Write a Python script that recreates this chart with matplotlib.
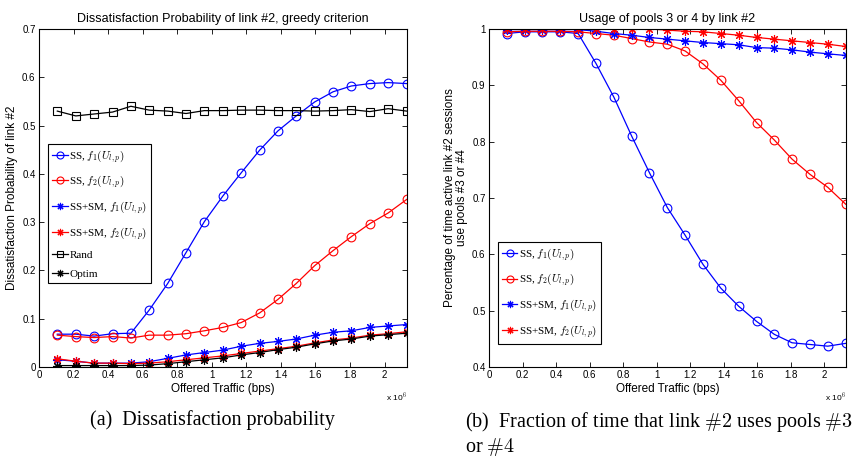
"""Two-panel chart: dissatisfaction probability and pool usage of link #2."""
import matplotlib
matplotlib.use("Agg")
import matplotlib.pyplot as plt

plt.rcParams["font.family"] = "Liberation Sans"
plt.rcParams["mathtext.fontset"] = "cm"

# offered traffic (x 10^6 bps)
TRAFFIC = [0.106, 0.213, 0.319, 0.426, 0.532, 0.638, 0.745, 0.851, 0.957, 1.064,
           1.170, 1.277, 1.383, 1.489, 1.596, 1.702, 1.808, 1.915, 2.021, 2.128]

# ── (a) dissatisfaction probability ─────────────────────────────────────────
DIS_SS_F1 = [0.068, 0.068, 0.064, 0.069, 0.070, 0.118, 0.173, 0.237, 0.301, 0.354,
             0.402, 0.449, 0.489, 0.520, 0.549, 0.570, 0.582, 0.587, 0.589, 0.587]
DIS_SS_F2 = [0.066, 0.063, 0.061, 0.063, 0.060, 0.066, 0.066, 0.069, 0.075, 0.082,
             0.092, 0.112, 0.140, 0.173, 0.210, 0.241, 0.270, 0.297, 0.319, 0.347]
DIS_SM_F1 = [0.015, 0.012, 0.008, 0.008, 0.008, 0.011, 0.018, 0.025, 0.030, 0.035,
             0.043, 0.049, 0.053, 0.058, 0.066, 0.072, 0.075, 0.082, 0.085, 0.088]
DIS_SM_F2 = [0.017, 0.012, 0.008, 0.008, 0.007, 0.008, 0.011, 0.015, 0.019, 0.023,
             0.028, 0.033, 0.038, 0.043, 0.050, 0.056, 0.060, 0.066, 0.069, 0.073]
DIS_RAND = [0.530, 0.520, 0.524, 0.528, 0.540, 0.532, 0.530, 0.525, 0.531, 0.531,
            0.532, 0.532, 0.531, 0.531, 0.530, 0.531, 0.533, 0.529, 0.535, 0.530]
DIS_OPTIM = [0.003, 0.003, 0.003, 0.003, 0.003, 0.004, 0.007, 0.011, 0.015, 0.019,
             0.025, 0.030, 0.036, 0.041, 0.048, 0.054, 0.058, 0.064, 0.067, 0.070]

# ── (b) fraction of time pools 3 or 4 are used ──────────────────────────────
USE_SS_F1 = [0.992, 0.995, 0.995, 0.995, 0.992, 0.939, 0.879, 0.810, 0.745, 0.683,
             0.634, 0.582, 0.540, 0.508, 0.481, 0.458, 0.443, 0.440, 0.437, 0.442]
USE_SS_F2 = [0.995, 0.996, 0.996, 0.996, 0.995, 0.992, 0.989, 0.983, 0.977, 0.973,
             0.961, 0.938, 0.909, 0.873, 0.834, 0.803, 0.769, 0.742, 0.719, 0.689]
USE_SM_F1 = [0.999, 0.999, 0.999, 0.999, 0.999, 0.996, 0.992, 0.989, 0.985, 0.982,
             0.979, 0.976, 0.974, 0.972, 0.967, 0.966, 0.963, 0.959, 0.956, 0.953]
USE_SM_F2 = [1.000, 1.000, 1.000, 1.000, 1.000, 1.000, 1.000, 1.000, 1.000, 0.998,
             0.996, 0.995, 0.992, 0.989, 0.985, 0.982, 0.979, 0.976, 0.973, 0.969]

LBL_SS_F1 = r"SS, $f_1(U_{l,p})$"
LBL_SS_F2 = r"SS, $f_2(U_{l,p})$"
LBL_SM_F1 = r"SS+SM, $f_1(U_{l,p})$"
LBL_SM_F2 = r"SS+SM, $f_2(U_{l,p})$"
XTICKS = [0, 0.2, 0.4, 0.6, 0.8, 1, 1.2, 1.4, 1.6, 1.8, 2]
XTICKLABELS = ["0", "0.2", "0.4", "0.6", "0.8", "1", "1.2", "1.4", "1.6", "1.8", "2"]

LEG_PROP = {"family": "Liberation Serif", "size": 8}
STAR = (8, 2, 0)  # matlab-style asterisk


def style_axes(ax):
    ax.set_xlim(0, 2.13)
    ax.set_xticks(XTICKS)
    ax.set_xticklabels(XTICKLABELS)
    ax.tick_params(direction="in", top=True, right=True, labelsize=7,
                   length=3.5, width=0.6, pad=2.5)
    for s in ax.spines.values():
        s.set_linewidth(0.8)
    ax.set_xlabel("Offered Traffic (bps)", fontsize=8.5, labelpad=2)
    ax.text(1.0, -0.068, r"x 10$^6$", transform=ax.transAxes, fontsize=6,
            ha="right", va="top")


def add_legend(ax, y_top):
    leg = ax.legend(loc="upper left", bbox_to_anchor=(0.025, y_top), prop=LEG_PROP,
                    fancybox=False, edgecolor="black", framealpha=1,
                    handlelength=1.4, handletextpad=0.15, labelspacing=0.8,
                    borderpad=0.35, borderaxespad=0, markerscale=0.8)
    leg.get_frame().set_linewidth(0.8)


fig = plt.figure(figsize=(8.57, 4.59), dpi=100)
ax1 = fig.add_axes([0.0455, 0.2004, 0.4294, 0.7364])
ax2 = fig.add_axes([0.5706, 0.2004, 0.4166, 0.7364])

kw_o = dict(marker="o", markersize=6.3, markerfacecolor="none", linewidth=0.9,
            markeredgewidth=0.8)
kw_s = dict(marker=STAR, markersize=6.5, linewidth=0.9, markeredgewidth=0.8)

ax1.plot(TRAFFIC, DIS_SS_F1, color="#0000ff", label=LBL_SS_F1, **kw_o)
ax1.plot(TRAFFIC, DIS_SS_F2, color="#ff0000", label=LBL_SS_F2, **kw_o)
ax1.plot(TRAFFIC, DIS_SM_F1, color="#0000ff", label=LBL_SM_F1, **kw_s)
ax1.plot(TRAFFIC, DIS_SM_F2, color="#ff0000", label=LBL_SM_F2, **kw_s)
ax1.plot(TRAFFIC, DIS_RAND, color="black", marker="s", markersize=5.5,
         markerfacecolor="none", linewidth=0.9, markeredgewidth=0.8, label="Rand")
ax1.plot(TRAFFIC, DIS_OPTIM, color="black", label="Optim", **kw_s)
ax1.set_ylim(0, 0.7)
ax1.set_yticks([0, 0.1, 0.2, 0.3, 0.4, 0.5, 0.6, 0.7])
ax1.set_yticklabels(["0", "0.1", "0.2", "0.3", "0.4", "0.5", "0.6", "0.7"])
style_axes(ax1)
ax1.set_ylabel("Dissatisfaction Probability of link #2", fontsize=8.5, labelpad=3)
ax1.set_title("Dissatisfaction Probability of link #2, greedy criterion",
              fontsize=9, pad=5)
add_legend(ax1, 0.66)

ax2.plot(TRAFFIC, USE_SS_F1, color="#0000ff", label=LBL_SS_F1, **kw_o)
ax2.plot(TRAFFIC, USE_SS_F2, color="#ff0000", label=LBL_SS_F2, **kw_o)
ax2.plot(TRAFFIC, USE_SM_F1, color="#0000ff", label=LBL_SM_F1, **kw_s)
ax2.plot(TRAFFIC, USE_SM_F2, color="#ff0000", label=LBL_SM_F2, **kw_s)
ax2.set_ylim(0.4, 1.0)
ax2.set_yticks([0.4, 0.5, 0.6, 0.7, 0.8, 0.9, 1.0])
ax2.set_yticklabels(["0.4", "0.5", "0.6", "0.7", "0.8", "0.9", "1"])
style_axes(ax2)
ax2.set_ylabel("Percentage of time active link #2 sessions\nuse pools #3 or #4",
               fontsize=8.5, labelpad=3, linespacing=1.0)
ax2.set_title("Usage of pools 3 or 4 by link #2", fontsize=9, pad=5)
add_legend(ax2, 0.37)

cap = dict(fontsize=14.5, family="Liberation Serif", va="top")
fig.text(0.2475, 0.107, r"(a)  Dissatisfaction probability", ha="center", **cap)
fig.text(0.5426, 0.107, "(b)  Fraction of time that link $\\#2$ uses pools $\\#3$\nor $\\#4$",
         ha="left", linespacing=1.15, **cap)

fig.savefig("out.png", dpi=100)
